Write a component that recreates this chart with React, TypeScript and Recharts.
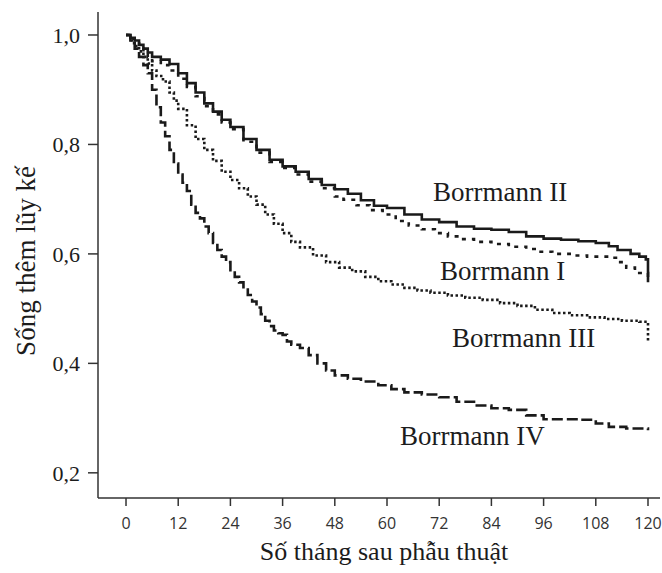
import React from 'react';
import { LineChart, Line, XAxis, YAxis } from 'recharts';

const xTicks = [0, 12, 24, 36, 48, 60, 72, 84, 96, 108, 120];
const yTicks = [0.2, 0.4, 0.6, 0.8, 1.0];

const monthsII = [0, 1, 2, 3, 4, 5, 6, 8, 10, 12, 14, 16, 18, 20, 22, 24, 27, 30, 33, 36, 39, 42, 45, 48, 51, 54, 57, 60, 64, 68, 72, 76, 80, 84, 88, 92, 96, 100, 104, 108, 111, 113, 116, 118, 119.5, 120];
const survII = [1.0, 0.995, 0.99, 0.982, 0.975, 0.968, 0.96, 0.955, 0.947, 0.93, 0.912, 0.895, 0.875, 0.86, 0.845, 0.832, 0.81, 0.79, 0.772, 0.76, 0.75, 0.737, 0.726, 0.718, 0.71, 0.698, 0.688, 0.684, 0.672, 0.663, 0.658, 0.65, 0.646, 0.644, 0.64, 0.632, 0.628, 0.626, 0.623, 0.62, 0.614, 0.607, 0.6, 0.595, 0.59, 0.548];

const monthsI = [0, 1, 2, 3, 4, 5, 6, 8, 10, 12, 14, 16, 18, 20, 22, 24, 27, 30, 33, 36, 39, 42, 45, 48, 50, 53, 56, 59, 62, 65, 68, 71, 74, 77, 80, 84, 88, 92, 95, 98, 102, 106, 111, 113, 115, 117, 120];
const survI = [1.0, 0.993, 0.985, 0.975, 0.965, 0.96, 0.952, 0.945, 0.935, 0.92, 0.905, 0.888, 0.87, 0.855, 0.84, 0.828, 0.805, 0.785, 0.768, 0.757, 0.745, 0.732, 0.72, 0.705, 0.699, 0.689, 0.68, 0.672, 0.66, 0.652, 0.645, 0.638, 0.632, 0.627, 0.622, 0.618, 0.613, 0.609, 0.604, 0.6, 0.597, 0.595, 0.593, 0.585, 0.575, 0.565, 0.55];

const monthsIII = [0, 1, 2, 3, 4, 5, 6, 7, 8.5, 10, 11, 12, 14, 16, 18, 20, 22, 24, 26, 28, 30, 32, 34, 36, 38, 40, 43, 46, 49, 52, 55, 58, 61, 64, 67, 70, 74, 78, 82, 86, 90, 94, 98, 102, 106, 110, 114, 118, 120];
const survIII = [1.0, 0.99, 0.98, 0.97, 0.96, 0.948, 0.935, 0.925, 0.915, 0.895, 0.88, 0.865, 0.835, 0.81, 0.79, 0.77, 0.75, 0.735, 0.72, 0.705, 0.69, 0.672, 0.655, 0.638, 0.622, 0.612, 0.597, 0.585, 0.575, 0.568, 0.558, 0.55, 0.544, 0.538, 0.533, 0.529, 0.524, 0.52, 0.516, 0.51, 0.505, 0.498, 0.492, 0.488, 0.484, 0.481, 0.478, 0.476, 0.44];

const monthsIV = [0, 1, 2, 3, 4, 5, 6, 7, 8, 9, 10, 11, 12, 13, 14, 15, 16, 17, 18, 19, 20, 21, 22, 23, 24, 25, 26, 27, 28, 29, 30, 31, 32, 33, 34, 35, 36, 37, 38, 40, 42, 44, 46, 48, 51, 54, 58, 61, 64, 68, 72, 76, 80, 84, 88, 92, 96, 100, 104, 108, 111, 115, 120];
const survIV = [1.0, 0.985, 0.975, 0.96, 0.945, 0.93, 0.9, 0.868, 0.84, 0.815, 0.79, 0.765, 0.745, 0.73, 0.715, 0.69, 0.675, 0.665, 0.65, 0.638, 0.62, 0.607, 0.595, 0.585, 0.57, 0.558, 0.548, 0.535, 0.525, 0.513, 0.502, 0.49, 0.478, 0.468, 0.46, 0.455, 0.452, 0.44, 0.434, 0.428, 0.415, 0.4, 0.387, 0.378, 0.372, 0.367, 0.36, 0.353, 0.347, 0.343, 0.338, 0.33, 0.323, 0.318, 0.315, 0.305, 0.298, 0.298, 0.297, 0.29, 0.284, 0.281, 0.278];

const toRows = (m: number[], s: number[]) => m.map((x, i) => ({ m: x, s: s[i] }));

const dataII = toRows(monthsII, survII);
const dataI = toRows(monthsI, survI);
const dataIII = toRows(monthsIII, survIII);
const dataIV = toRows(monthsIV, survIV);

const serif = '"Liberation Serif", "Times New Roman", serif';
const sans = '"Open Sans", "Noto Sans", sans-serif';
const ink = '#1c1c1c';

export default function App() {
  return (
    <div style={{ position: 'absolute', left: 0, top: 0, width: 662, height: 573, background: '#fff' }}>
      <LineChart width={662} height={573} margin={{ top: 12, right: 2, left: 0, bottom: 0 }}>
        <XAxis
          type="number"
          dataKey="m"
          domain={[-6.44, 122.76]}
          ticks={xTicks}
          allowDataOverflow
          height={75}
          tickSize={8}
          tickMargin={12}
          axisLine={{ stroke: '#333', strokeWidth: 1.5 }}
          tickLine={{ stroke: '#333', strokeWidth: 1.5 }}
          tick={{ fill: '#333', fontSize: 16, fontFamily: sans }}
          interval={0}
        />
        <YAxis
          type="number"
          dataKey="s"
          domain={[0.154, 1.042]}
          ticks={yTicks}
          allowDataOverflow
          width={98}
          tickSize={10}
          tickMargin={8}
          axisLine={{ stroke: '#333', strokeWidth: 1.5 }}
          tickLine={{ stroke: '#333', strokeWidth: 1.5 }}
          tick={{ fill: ink, fontSize: 22, fontFamily: serif }}
          tickFormatter={(v: number) => v.toFixed(1).replace('.', ',')}
          interval={0}
        />
        <Line data={dataII} dataKey="s" type="stepAfter" stroke="#1a1a1a" strokeWidth={2.6} dot={false} isAnimationActive={false} />
        <Line data={dataI} dataKey="s" type="stepAfter" stroke="#1a1a1a" strokeWidth={2.6} strokeDasharray="4 6" dot={false} isAnimationActive={false} />
        <Line data={dataIII} dataKey="s" type="stepAfter" stroke="#1a1a1a" strokeWidth={2.6} strokeDasharray="2.5 2.5" dot={false} isAnimationActive={false} />
        <Line data={dataIV} dataKey="s" type="stepAfter" stroke="#1a1a1a" strokeWidth={2.6} strokeDasharray="11 4" dot={false} isAnimationActive={false} />
      </LineChart>
      <svg width={662} height={573} style={{ position: 'absolute', left: 0, top: 0, pointerEvents: 'none' }}>
        <g fontFamily={serif} fill={ink} fontSize={27}>
          <text x={433} y={201}>Borrmann II</text>
          <text x={440} y={280}>Borrmann I</text>
          <text x={452} y={347}>Borrmann III</text>
          <text x={400} y={445}>Borrmann IV</text>
        </g>
        <text x={384} y={560} textAnchor="middle" fontFamily={serif} fontSize={26} fill={ink}>Số tháng sau phẫu thuật</text>
        <text x={0} y={0} transform="translate(35,261) rotate(-90)" textAnchor="middle" fontFamily={serif} fontSize={27} fill={ink}>Sống thêm lũy kế</text>
      </svg>
    </div>
  );
}
